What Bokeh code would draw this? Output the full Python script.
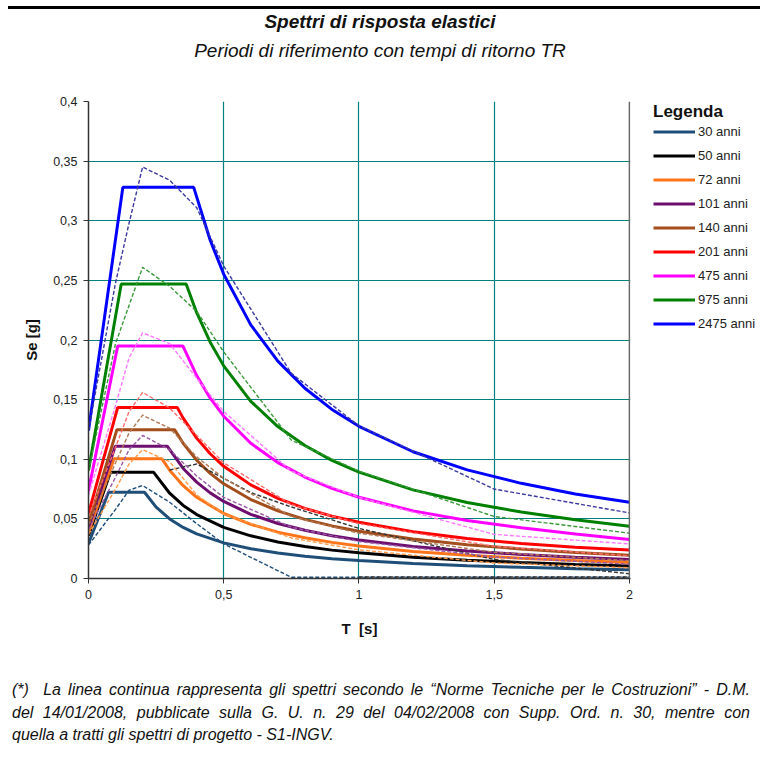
import math
from bokeh.plotting import figure
from bokeh.models import (Range1d, FixedTicker, CustomJSTickFormatter,
                          Legend, LegendItem, Span, Div)
from bokeh.layouts import column, row
from bokeh.embed import file_html
from bokeh.resources import INLINE

# ---------------- data ----------------
labels = ["30 anni", "50 anni", "72 anni", "101 anni", "140 anni",
          "201 anni", "475 anni", "975 anni", "2475 anni"]

# NTC 2008 spectra (solid lines)
T_30 = [0, 0.074, 0.207, 0.25, 0.3, 0.35, 0.4, 0.5, 0.6, 0.7, 0.8, 0.9, 1.0, 1.2, 1.4, 1.6, 1.8, 2.0]
Se_30 = [0.0293, 0.0723, 0.0723, 0.0599, 0.0499, 0.0428, 0.0374, 0.0299, 0.0250, 0.0214, 0.0187,
         0.0166, 0.0150, 0.0125, 0.0107, 0.0094, 0.0082, 0.0074]
T_50 = [0, 0.081, 0.241, 0.3, 0.35, 0.4, 0.5, 0.6, 0.7, 0.8, 0.9, 1.0, 1.2, 1.4, 1.6, 1.8, 2.0]
Se_50 = [0.0360, 0.0890, 0.0890, 0.0715, 0.0613, 0.0536, 0.0429, 0.0358, 0.0306, 0.0268, 0.0238,
         0.0215, 0.0179, 0.0153, 0.0134, 0.0117, 0.0105]
T_72 = [0, 0.094, 0.271, 0.3, 0.35, 0.4, 0.5, 0.6, 0.7, 0.8, 0.9, 1.0, 1.2, 1.4, 1.6, 1.8, 2.0]
Se_72 = [0.0388, 0.1005, 0.1005, 0.0908, 0.0778, 0.0681, 0.0545, 0.0454, 0.0389, 0.0341, 0.0303,
         0.0272, 0.0227, 0.0195, 0.0170, 0.0150, 0.0135]
T_101 = [0, 0.099, 0.291, 0.35, 0.4, 0.45, 0.5, 0.6, 0.7, 0.8, 0.9, 1.0, 1.2, 1.4, 1.6, 1.8, 2.0]
Se_101 = [0.0430, 0.1110, 0.1110, 0.0923, 0.0808, 0.0718, 0.0646, 0.0538, 0.0461, 0.0404, 0.0359,
          0.0323, 0.0269, 0.0231, 0.0202, 0.0178, 0.0160]
T_140 = [0, 0.105, 0.318, 0.35, 0.4, 0.45, 0.5, 0.6, 0.7, 0.8, 0.9, 1.0, 1.2, 1.4, 1.6, 1.8, 2.0]
Se_140 = [0.0460, 0.1248, 0.1248, 0.1134, 0.0992, 0.0882, 0.0794, 0.0662, 0.0567, 0.0496, 0.0441,
          0.0397, 0.0331, 0.0284, 0.0248, 0.0219, 0.0195]
T_201 = [0, 0.108, 0.328, 0.35, 0.4, 0.45, 0.5, 0.6, 0.7, 0.8, 0.9, 1.0, 1.2, 1.4, 1.6, 1.8, 2.0]
Se_201 = [0.0545, 0.1435, 0.1435, 0.1345, 0.1177, 0.1046, 0.0941, 0.0785, 0.0672, 0.0588, 0.0523,
          0.0471, 0.0392, 0.0336, 0.0294, 0.0262, 0.0238]
T_475 = [0, 0.108, 0.349, 0.4, 0.45, 0.5, 0.6, 0.7, 0.8, 0.9, 1.0, 1.2, 1.4, 1.6, 1.8, 2.0]
Se_475 = [0.0737, 0.1950, 0.1950, 0.1702, 0.1512, 0.1361, 0.1134, 0.0972, 0.0851, 0.0756, 0.0681,
          0.0567, 0.0486, 0.0425, 0.0374, 0.0328]
T_975 = [0, 0.121, 0.361, 0.4, 0.45, 0.5, 0.6, 0.7, 0.8, 0.9, 1.0, 1.2, 1.4, 1.6, 1.8, 2.0]
Se_975 = [0.0905, 0.2470, 0.2470, 0.2229, 0.1982, 0.1783, 0.1486, 0.1274, 0.1115, 0.0991, 0.0892,
          0.0743, 0.0637, 0.0557, 0.0493, 0.0438]
T_2475 = [0, 0.127, 0.389, 0.45, 0.5, 0.6, 0.7, 0.8, 0.9, 1.0, 1.2, 1.4, 1.6, 1.8, 2.0]
Se_2475 = [0.1240, 0.3280, 0.3280, 0.2836, 0.2552, 0.2127, 0.1823, 0.1595, 0.1418, 0.1276, 0.1063,
           0.0911, 0.0798, 0.0709, 0.0639]

# S1-INGV project spectra (dashed lines)
T_ingv = [0, 0.1, 0.15, 0.2, 0.3, 0.4, 0.5, 0.75, 1.0, 1.5, 2.0]
D_30 = [0.028, 0.058, 0.074, 0.078, 0.064, 0.046, 0.029, 0.001, 0.001, 0.001, 0.001]
D_72 = [0.037, 0.075, 0.096, 0.108, 0.098, 0.070, 0.054, 0.034, 0.024, 0.013, 0.009]
D_101 = [0.041, 0.085, 0.108, 0.120, 0.108, 0.086, 0.068, 0.043, 0.031, 0.018, 0.012]
D_140 = [0.045, 0.097, 0.122, 0.137, 0.126, 0.102, 0.084, 0.052, 0.038, 0.022, 0.015]
D_201 = [0.052, 0.110, 0.140, 0.156, 0.143, 0.120, 0.097, 0.062, 0.046, 0.027, 0.019]
D_475 = [0.070, 0.145, 0.185, 0.206, 0.197, 0.168, 0.140, 0.090, 0.068, 0.037, 0.029]
D_975 = [0.090, 0.197, 0.229, 0.261, 0.245, 0.224, 0.190, 0.116, 0.090, 0.052, 0.038]
D_2475 = [0.124, 0.248, 0.298, 0.345, 0.334, 0.311, 0.262, 0.172, 0.128, 0.075, 0.055]
# 50 anni dashed as it appears in the picture
T_d50 = [0.3, 0.4, 0.5, 0.6, 0.75, 1.0, 1.5, 2.0, float("nan"), 1.0, 1.5, 2.0]
D_50 = [0.091, 0.096, 0.084, 0.072, 0.060, 0.042, 0.016, 0.004, float("nan"), 0.0012, 0.0012, 0.0012]

x_ticks = [0, 0.5, 1, 1.5, 2]
y_ticks = [0, 0.05, 0.1, 0.15, 0.2, 0.25, 0.3, 0.35, 0.4]

title_text = "Spettri di risposta elastici"
subtitle_text = "Periodi di riferimento con tempi di ritorno TR"
note_lines = [
    "(*)&nbsp; La linea continua rappresenta gli spettri secondo le “Norme Tecniche per le Costruzioni” - D.M.",
    "del 14/01/2008, pubblicate sulla G. U. n. 29 del 04/02/2008 con Supp. Ord. n. 30, mentre con",
    "quella a tratti gli spettri di progetto - S1-INGV.",
]

solid_colors = ["#1F4E79", "#000000", "#FF7418", "#6E0F70", "#A34E1C",
                "#FF0000", "#FF00FF", "#008000", "#0000FF"]
dash_colors = ["#1F4E79", "#333333", "#FF9A4A", "#9A5AA6", "#B07A56",
               "#FF6A6A", "#FF77FF", "#3A9A3A", "#3A3AA0"]

# ---------------- layout ----------------
W = 760
TOP_H, FIG_H, NOTE_H = 70, 580, 119
P_W = 642
FONT = "Liberation Sans"

head = Div(width=W, height=TOP_H, margin=(0, 0, 0, 0), text=f"""
<div style="position:relative;width:{W}px;height:{TOP_H}px;font-family:'{FONT}';color:#111;">
  <div style="position:absolute;left:8px;top:6px;width:752px;height:3px;background:#000;"></div>
  <div style="position:absolute;left:0;top:11px;width:{W}px;text-align:center;
              font-weight:bold;font-style:italic;font-size:19px;line-height:22px;">{title_text}</div>
  <div style="position:absolute;left:0;top:40px;width:{W}px;text-align:center;
              font-style:italic;font-size:19px;line-height:22px;">{subtitle_text}</div>
</div>""")

p = figure(width=P_W, height=FIG_H, output_backend="svg", toolbar_location=None, title=None,
           x_range=Range1d(0, 2.004), y_range=Range1d(0, 0.4),
           min_border_left=88, min_border_right=P_W - 88 - 542, min_border_top=31,
           min_border_bottom=72, margin=(0, 0, 0, 0))
p.outline_line_color = None
p.background_fill_color = "white"
p.border_fill_color = "white"

fmt = CustomJSTickFormatter(code="""
const v = Math.round(tick*100)/100;
return v.toString().replace('.', ',');
""")
for ax in (p.xaxis, p.yaxis):
    ax.formatter = fmt
    ax.axis_line_color = "#333333"
    ax.axis_line_width = 1.5
    ax.major_tick_line_color = "#333333"
    ax.major_tick_out = 5
    ax.major_tick_in = 0
    ax.minor_tick_line_color = None
    ax.major_label_text_font = FONT
    ax.major_label_text_font_size = "12.5px"
    ax.major_label_text_color = "#222222"
    ax.axis_label_text_font = FONT
    ax.axis_label_text_font_style = "bold"
    ax.axis_label_text_font_size = "15px"
    ax.axis_label_text_color = "#111111"
p.xaxis.ticker = FixedTicker(ticks=x_ticks)
p.yaxis.ticker = FixedTicker(ticks=y_ticks)
p.xaxis.axis_label = "T\u00a0 [s]"
p.yaxis.axis_label = "Se [g]"
p.xaxis.major_label_standoff = 6
p.xaxis.axis_label_standoff = 18
p.yaxis.major_label_standoff = 6
p.yaxis.axis_label_standoff = 10

p.xgrid.ticker = FixedTicker(ticks=x_ticks[1:-1])
p.ygrid.ticker = FixedTicker(ticks=y_ticks[1:-1])
for g in (p.xgrid, p.ygrid):
    g.grid_line_color = "#008080"
    g.grid_line_width = 1.2

p.add_layout(Span(location=2, dimension="height", line_color="#666666", line_width=1.5))

solid_T = [T_30, T_50, T_72, T_101, T_140, T_201, T_475, T_975, T_2475]
solid_S = [Se_30, Se_50, Se_72, Se_101, Se_140, Se_201, Se_475, Se_975, Se_2475]
dash_T = [T_ingv, T_d50, T_ingv, T_ingv, T_ingv, T_ingv, T_ingv, T_ingv, T_ingv]
dash_S = [D_30, D_50, D_72, D_101, D_140, D_201, D_475, D_975, D_2475]

for i in range(len(labels)):
    p.line(solid_T[i], solid_S[i], line_color=solid_colors[i], line_width=3)
for i in range(len(labels)):
    p.line(dash_T[i], dash_S[i], line_color=dash_colors[i], line_width=1.4, line_dash="4 2")

# ---- legend panel (separate figure to the right of the chart; its frame is aligned with the chart's) ----
q = figure(width=W - P_W, height=FIG_H, output_backend="svg", toolbar_location=None, title=None,
           x_range=Range1d(0, 1), y_range=Range1d(0, 1),
           x_axis_location=None, y_axis_location=None,
           min_border=0, min_border_left=0, min_border_right=0,
           min_border_top=0, min_border_bottom=0, margin=(0, 0, 0, 0))
q.outline_line_color = None
q.xgrid.visible = False
q.ygrid.visible = False
leg_renderers = [q.line([5, 6], [5, 6], line_color=solid_colors[i], line_width=3)
                 for i in range(len(labels))]

legend = Legend(items=[LegendItem(label=labels[i], renderers=[leg_renderers[i]])
                       for i in range(len(labels))],
                location=(11, 247), title="Legenda")
legend.title_text_font = FONT
legend.title_text_font_style = "bold"
legend.title_text_font_size = "17px"
legend.title_text_color = "#111111"
legend.title_standoff = 2
legend.label_text_font = FONT
legend.label_text_font_size = "13px"
legend.label_text_color = "#222222"
legend.glyph_width = 42
legend.glyph_height = 15
legend.label_height = 15
legend.label_standoff = 3
legend.spacing = 9
legend.padding = 0
legend.margin = 0
legend.border_line_color = None
legend.background_fill_alpha = 0
q.add_layout(legend)

note_html = (
    f'<div style="width:738px;margin-left:12px;padding-top:29px;font-family:\'{FONT}\';'
    f'font-style:italic;font-size:16px;line-height:22.5px;color:#111;">'
    f'<div style="text-align:justify;text-align-last:justify;white-space:nowrap;">{note_lines[0]}</div>'
    f'<div style="text-align:justify;text-align-last:justify;white-space:nowrap;">{note_lines[1]}</div>'
    f'<div style="text-align:left;">{note_lines[2]}</div></div>'
)
note = Div(width=W, height=NOTE_H, margin=(0, 0, 0, 0), text=note_html)

layout = column(head, row(p, q, spacing=0, margin=(0, 0, 0, 0)), note, spacing=0, margin=(0, 0, 0, 0))
open("out.html", "w").write(file_html(layout, INLINE))
